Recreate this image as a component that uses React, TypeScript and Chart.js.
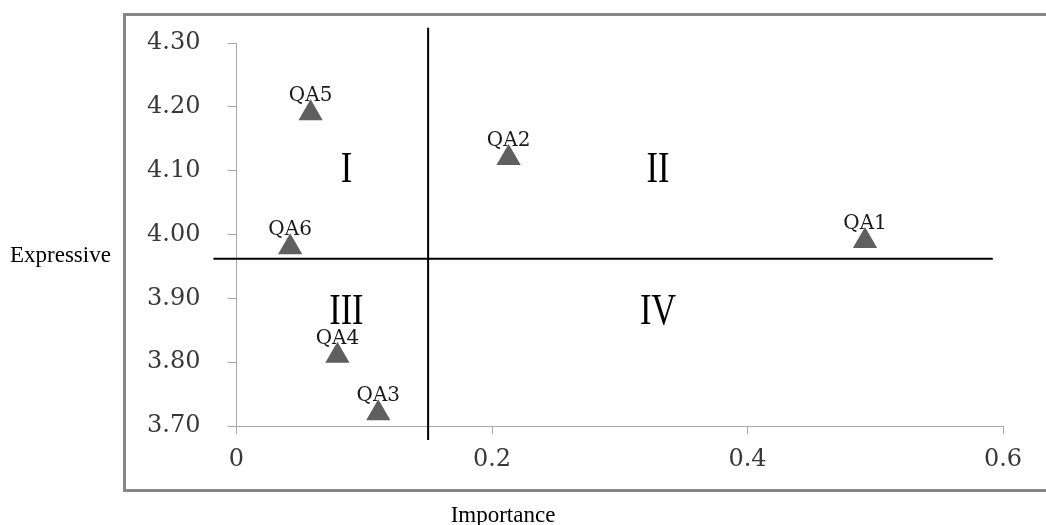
import React, { useEffect, useRef } from 'react';
import { Chart, registerables } from 'chart.js';

Chart.register(...registerables);

// ---- data ----
const pointNames = ['QA1', 'QA2', 'QA3', 'QA4', 'QA5', 'QA6'];
const importance = [0.492, 0.213, 0.111, 0.079, 0.058, 0.042];
const expressive = [3.99, 4.12, 3.72, 3.81, 4.19, 3.98];

const xTickValues = [0, 0.2, 0.4, 0.6];
const xTickLabels = ['0', '0.2', '0.4', '0.6'];
const yTickValues = [3.7, 3.8, 3.9, 4.0, 4.1, 4.2, 4.3];
const yTickLabels = ['3.70', '3.80', '3.90', '4.00', '4.10', '4.20', '4.30'];

const quadrantX = 0.15;
const quadrantY = 3.962;
const verticalLineSpan = [4.324, 3.678];
const horizontalLineSpan = [-0.018, 0.592];

const quadrantNames = ['I', 'II', 'III', 'IV'];
const quadrantLabelX = [0.086, 0.33, 0.086, 0.33];
const quadrantLabelY = [4.1, 4.1, 3.878, 3.878];

const xTitle = 'Importance';
const yTitle = 'Expressive';

const TICK_FONT = { family: '"DejaVu Serif", serif', size: 24 };
const TICK_COLOR = '#383838';
const AXIS_COLOR = '#a8a8a8';

const decorPlugin = {
  id: 'decor',
  beforeDraw(chart: any) {
    const ctx = chart.ctx;
    ctx.save();
    ctx.fillStyle = '#ffffff';
    ctx.fillRect(0, 0, chart.width, chart.height);
    ctx.strokeStyle = '#868686';
    ctx.lineWidth = 3;
    ctx.strokeRect(124.5, 14.5, 940, 476);
    ctx.restore();
  },
  afterDatasetsDraw(chart: any) {
    const ctx = chart.ctx;
    const xs = chart.scales.x;
    const ys = chart.scales.y;
    ctx.save();
    // point labels
    ctx.font = '20px "DejaVu Serif", serif';
    ctx.fillStyle = '#1a1a1a';
    ctx.textAlign = 'center';
    ctx.textBaseline = 'alphabetic';
    const meta = chart.getDatasetMeta(0);
    meta.data.forEach((el: any, i: number) => {
      ctx.fillText(pointNames[i], el.x, el.y - 12);
    });
    // quadrant labels
    ctx.font = '42px "Liberation Serif", "Times New Roman", serif';
    ctx.fillStyle = '#000000';
    ctx.textBaseline = 'middle';
    quadrantNames.forEach((name, i) => {
      const px = xs.getPixelForValue(quadrantLabelX[i]);
      const py = ys.getPixelForValue(quadrantLabelY[i]);
      ctx.save();
      ctx.translate(px, py);
      ctx.scale(0.82, 1.05);
      ctx.fillText(name, 0, 0);
      ctx.restore();
    });
    ctx.restore();
  },
  afterDraw(chart: any) {
    const ctx = chart.ctx;
    ctx.save();
    ctx.font = '23px "Liberation Serif", "Times New Roman", serif';
    ctx.fillStyle = '#000000';
    ctx.textBaseline = 'alphabetic';
    ctx.textAlign = 'left';
    ctx.fillText(yTitle, 10, 262);
    ctx.textAlign = 'center';
    ctx.fillText(xTitle, 503, 522);
    ctx.restore();
  },
};

export default function App() {
  const canvasRef = useRef<HTMLCanvasElement | null>(null);

  useEffect(() => {
    if (!canvasRef.current) return;
    const chart = new Chart(canvasRef.current, {
      type: 'scatter',
      data: {
        datasets: [
          {
            label: 'points',
            data: importance.map((x, i) => ({ x, y: expressive[i] })),
            pointStyle: 'triangle',
            pointRadius: 14,
            pointHoverRadius: 14,
            backgroundColor: '#5f5f5f',
            borderColor: '#5f5f5f',
            borderWidth: 0,
          },
          {
            label: 'vline',
            data: verticalLineSpan.map((y) => ({ x: quadrantX, y })),
            showLine: true,
            pointRadius: 0,
            borderColor: '#000000',
            borderWidth: 2,
            clip: false,
          } as any,
          {
            label: 'hline',
            data: horizontalLineSpan.map((x) => ({ x, y: quadrantY })),
            showLine: true,
            pointRadius: 0,
            borderColor: '#000000',
            borderWidth: 2,
            clip: false,
          } as any,
        ],
      },
      options: {
        responsive: false,
        animation: false,
        events: [],
        layout: { padding: { left: 124, top: 43, right: 43, bottom: 0 } },
        plugins: {
          legend: { display: false },
          tooltip: { enabled: false },
          title: { display: false },
        },
        scales: {
          x: {
            type: 'linear',
            min: 0,
            max: 0.6,
            afterBuildTicks: (s: any) => {
              s.ticks = xTickValues.map((v) => ({ value: v }));
            },
            afterFit: (s: any) => {
              s.height = 99;
            },
            ticks: {
              callback: (_v: any, i: number) => xTickLabels[i],
              font: TICK_FONT,
              color: TICK_COLOR,
              padding: 11,
              maxRotation: 0,
              autoSkip: false,
            },
            grid: {
              display: true,
              drawOnChartArea: false,
              drawTicks: true,
              tickLength: 8,
              color: AXIS_COLOR,
              lineWidth: 1,
            },
            border: { display: true, color: AXIS_COLOR, width: 1 },
          },
          y: {
            type: 'linear',
            min: 3.7,
            max: 4.3,
            afterBuildTicks: (s: any) => {
              s.ticks = yTickValues.map((v) => ({ value: v }));
            },
            afterFit: (s: any) => {
              s.width = 112.5;
            },
            ticks: {
              callback: (_v: any, i: number) => yTickLabels[i],
              font: TICK_FONT,
              color: TICK_COLOR,
              padding: 27,
              autoSkip: false,
            },
            grid: {
              display: true,
              drawOnChartArea: false,
              drawTicks: true,
              tickLength: 9,
              color: AXIS_COLOR,
              lineWidth: 1,
            },
            border: { display: true, color: AXIS_COLOR, width: 1 },
          },
        },
      } as any,
      plugins: [decorPlugin],
    });
    return () => chart.destroy();
  }, []);

  return (
    <div style={{ position: 'fixed', left: 0, top: 0, width: 1046, height: 525, background: '#fff' }}>
      <canvas ref={canvasRef} width={1046} height={525} style={{ display: 'block' }} />
    </div>
  );
}
